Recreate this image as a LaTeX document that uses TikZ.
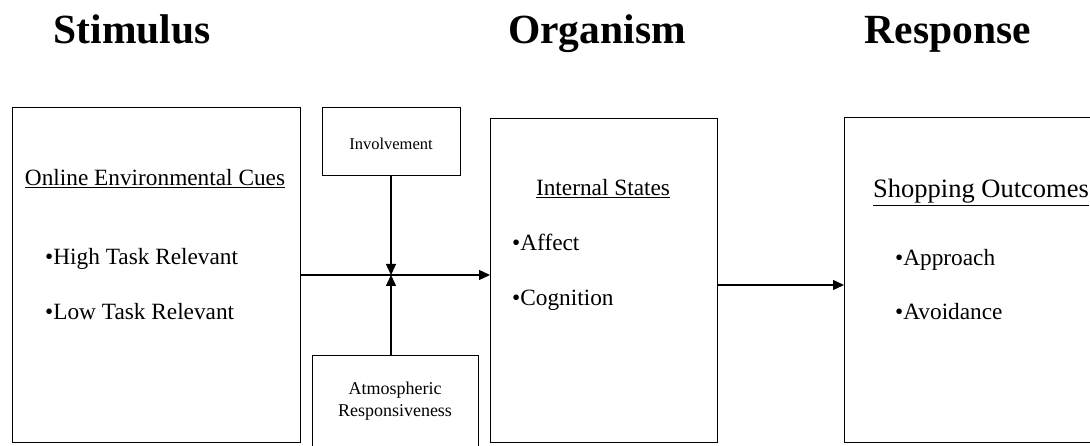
\documentclass[tikz,border=0pt]{standalone}
\usepackage{fontspec}
\setmainfont{Liberation Serif}
\usetikzlibrary{arrows.meta}
\begin{document}
\begin{tikzpicture}[x=1pt,y=-1pt,
  box/.style={draw, line width=1.3pt, anchor=north west, inner sep=0pt},
  title/.style={font=\fontsize{41.5}{45}\selectfont\bfseries, anchor=base},
  body/.style={font=\fontsize{23.3}{27}\selectfont, anchor=base west, inner sep=0pt},
  head/.style={font=\fontsize{23.3}{27}\selectfont, anchor=base, inner sep=0pt},
  small/.style={font=\fontsize{16.5}{20}\selectfont, align=center, inner sep=0pt},
  arr/.style={line width=1.3pt, -{Triangle[length=11pt,width=10pt]}}]
\useasboundingbox (0,0) rectangle (1090,446);
\clip (0,0) rectangle (1090,446);
\fill[white] (0,0) rectangle (1090,446);
% titles
\node[title] (t1) at (132,44) {Stimulus};
\node[title] (t2) at (597,44) {Organism};
\node[title] (t3) at (948,44) {Response};
% boxes
\node[box, minimum width=288pt, minimum height=335pt] (s) at (12,107) {};
\node[box, minimum width=138pt, minimum height=68pt] (inv) at (322,107) {};
\node[box, minimum width=166pt, minimum height=110pt] (atm) at (312,355) {};
\node[box, minimum width=227pt, minimum height=324pt] (o) at (490,118) {};
\node[box, minimum width=260pt, minimum height=325pt] (r) at (844,117) {};
% texts
\node[head] (s0) at (155,186) {\underline{Online Environmental Cues}};
\node[body] (s1) at (45,265) {•High Task Relevant};
\node[body] (s2) at (45,320) {•Low Task Relevant};
\node[small] (invt) at (391,144) {Involvement};
\node[small, font=\fontsize{18}{22}\selectfont] (atmt) at (395,401) {Atmospheric\\Responsiveness};
\node[head] (o0) at (603,196) {\underline{Internal States}};
\node[body] (o1) at (512,251) {•Affect};
\node[body] (o2) at (512,306) {•Cognition};
\node[head, font=\fontsize{26.5}{30}\selectfont] (r0) at (981,198) {\underline{Shopping Outcomes}};
\node[body] (r1) at (895,266) {•Approach};
\node[body] (r2) at (895,320) {•Avoidance};
% connectors
\coordinate (m) at (391,275);
\coordinate (m2) at (780,285);
\draw[arr] (s.east |- m) -- (o.west |- m);
\draw[arr] (inv.south -| m) -- (m);
\draw[arr] (atm.north -| m) -- (m);
\draw[arr] (o.east |- m2) -- (r.west |- m2);
\end{tikzpicture}
\end{document}
